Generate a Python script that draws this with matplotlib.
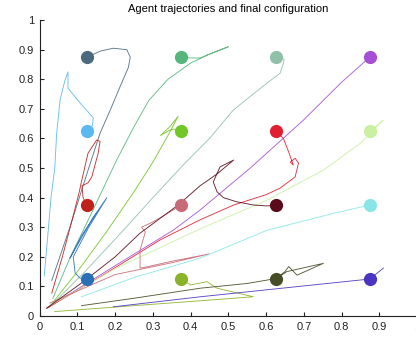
import matplotlib
matplotlib.use("Agg")
import matplotlib.pyplot as plt
import numpy as np

plt.rcParams['font.family'] = ['Liberation Sans', 'DejaVu Sans']

title = "Agent trajectories and final configuration"

# final configuration (marker positions)
final_x = [0.125, 0.375, 0.625, 0.875,
           0.125, 0.375, 0.625, 0.875,
           0.125, 0.375, 0.625, 0.875,
           0.125, 0.375, 0.625, 0.875]
final_y = [0.875, 0.875, 0.875, 0.875,
           0.625, 0.625, 0.625, 0.625,
           0.375, 0.375, 0.375, 0.375,
           0.125, 0.125, 0.125, 0.125]
colors = ['#4b6a80', '#55b57a', '#8fc0a8', '#a64fd6',
          '#5bb8f0', '#72c626', '#e01f30', '#c8f0a0',
          '#c0201a', '#c86a78', '#5a0a1a', '#8ae6e6',
          '#2a70b8', '#8ab32a', '#454c26', '#4a35c0']

# trajectories, same order as final positions
traj_x = [
    [0.032, 0.08, 0.13, 0.16, 0.187, 0.213, 0.235, 0.24, 0.231, 0.195, 0.16, 0.135, 0.125],
    [0.035, 0.08, 0.142, 0.204, 0.25, 0.29, 0.34, 0.40, 0.45, 0.50, 0.44, 0.425, 0.40, 0.375],
    [0.03, 0.12, 0.222, 0.30, 0.38, 0.45, 0.513, 0.602, 0.637, 0.646, 0.648, 0.635, 0.625],
    [0.02, 0.2, 0.354, 0.425, 0.558, 0.699, 0.8, 0.875],
    [0.012, 0.02, 0.03, 0.04, 0.045, 0.054, 0.067, 0.075, 0.075, 0.107, 0.142, 0.14, 0.125],
    [0.025, 0.1, 0.18, 0.25, 0.30, 0.34, 0.367, 0.345, 0.32, 0.34, 0.355, 0.375],
    [0.02, 0.17, 0.319, 0.425, 0.514, 0.6, 0.637, 0.677, 0.686, 0.677, 0.664, 0.672, 0.66, 0.646, 0.625],
    [0.02, 0.2, 0.426, 0.6, 0.752, 0.85, 0.91, 0.89, 0.875],
    [0.032, 0.06, 0.085, 0.105, 0.11, 0.128, 0.151, 0.16, 0.155, 0.138, 0.128, 0.112, 0.115, 0.125],
    [0.027, 0.2, 0.35, 0.45, 0.35, 0.28, 0.266, 0.266, 0.28, 0.27, 0.30, 0.33, 0.375],
    [0.018, 0.12, 0.2, 0.266, 0.367, 0.425, 0.47, 0.514, 0.478, 0.46, 0.47, 0.487, 0.522, 0.567, 0.602, 0.625],
    [0.111, 0.25, 0.426, 0.603, 0.779, 0.85, 0.875],
    [0.151, 0.11, 0.08, 0.10, 0.14, 0.178, 0.13, 0.089, 0.094, 0.107, 0.125],
    [0.04, 0.25, 0.452, 0.566, 0.47, 0.443, 0.42, 0.40, 0.375],
    [0.111, 0.25, 0.426, 0.55, 0.628, 0.655, 0.752, 0.682, 0.66, 0.65, 0.625],
    [0.195, 0.426, 0.65, 0.875, 0.911],
]
traj_y = [
    [0.12, 0.30, 0.50, 0.618, 0.696, 0.775, 0.84, 0.875, 0.90, 0.905, 0.895, 0.88, 0.875],
    [0.06, 0.196, 0.36, 0.527, 0.64, 0.73, 0.80, 0.855, 0.885, 0.91, 0.88, 0.872, 0.872, 0.875],
    [0.035, 0.15, 0.29, 0.40, 0.51, 0.60, 0.696, 0.787, 0.82, 0.855, 0.868, 0.872, 0.875],
    [0.027, 0.17, 0.29, 0.358, 0.50, 0.662, 0.79, 0.875],
    [0.135, 0.25, 0.40, 0.50, 0.617, 0.73, 0.797, 0.825, 0.77, 0.72, 0.67, 0.645, 0.625],
    [0.03, 0.15, 0.29, 0.42, 0.52, 0.61, 0.675, 0.64, 0.61, 0.625, 0.632, 0.625],
    [0.027, 0.14, 0.257, 0.325, 0.375, 0.41, 0.432, 0.47, 0.517, 0.533, 0.52, 0.51, 0.554, 0.6, 0.625],
    [0.03, 0.16, 0.295, 0.39, 0.493, 0.584, 0.662, 0.64, 0.625],
    [0.077, 0.2, 0.32, 0.42, 0.45, 0.55, 0.595, 0.59, 0.55, 0.47, 0.45, 0.44, 0.40, 0.375],
    [0.044, 0.14, 0.18, 0.21, 0.185, 0.165, 0.162, 0.223, 0.284, 0.30, 0.318, 0.34, 0.375],
    [0.026, 0.12, 0.2, 0.28, 0.375, 0.44, 0.48, 0.527, 0.504, 0.453, 0.42, 0.40, 0.386, 0.375, 0.372, 0.375],
    [0.065, 0.13, 0.196, 0.29, 0.347, 0.368, 0.375],
    [0.348, 0.27, 0.195, 0.24, 0.33, 0.40, 0.30, 0.20, 0.145, 0.128, 0.125],
    [0.015, 0.035, 0.054, 0.065, 0.094, 0.116, 0.11, 0.105, 0.125],
    [0.035, 0.06, 0.094, 0.11, 0.127, 0.15, 0.178, 0.138, 0.167, 0.15, 0.125],
    [0.031, 0.065, 0.095, 0.125, 0.162],
]

fig = plt.figure(figsize=(4.16, 3.37), dpi=100)
ax = fig.add_axes([0.0954, 0.0623, 0.907, 0.878])

for xs, ys, c in zip(traj_x, traj_y, colors):
    ax.plot(xs, ys, '-', color=c, lw=0.65, alpha=0.9)
for fx, fy, c in zip(final_x, final_y, colors):
    ax.plot(fx, fy, 'o', color=c, markersize=9.5, markeredgewidth=0)

ax.set_xlim(0, 1)
ax.set_ylim(0, 1)
ticks = np.round(np.arange(0, 1.01, 0.1), 1)
ticklabels = ['0' if t == 0 else ('1' if t == 1 else f'{t:g}') for t in ticks]
ax.set_xticks(ticks)
ax.set_xticklabels(ticklabels)
ax.set_yticks(ticks)
ax.set_yticklabels(ticklabels)
ax.tick_params(direction='in', length=3, width=0.8, labelsize=8,
               colors='#222222', pad=4)
for s in ['top', 'right']:
    ax.spines[s].set_visible(False)
for s in ['left', 'bottom']:
    ax.spines[s].set_color('#222222')
    ax.spines[s].set_linewidth(0.8)
ax.set_title(title, fontsize=8, pad=6)

fig.savefig('out.png', dpi=100)
